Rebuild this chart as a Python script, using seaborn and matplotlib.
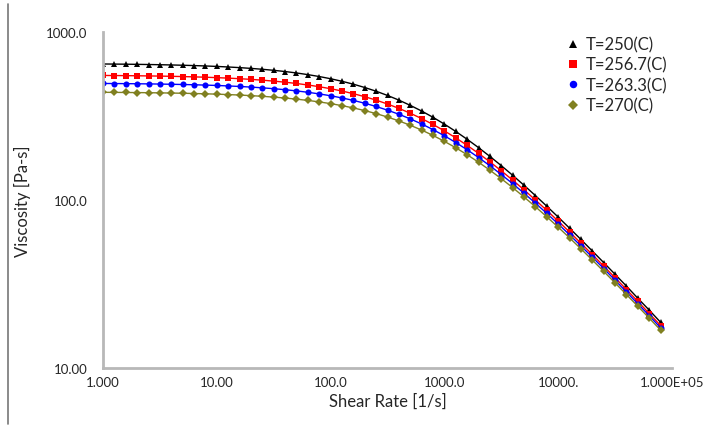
import numpy as np
import pandas as pd
import seaborn as sns
import matplotlib
matplotlib.use('Agg')
import matplotlib.pyplot as plt
from matplotlib.lines import Line2D

# shear rates (1/s), 10 points per decade
log_rate = [0.0, 0.1, 0.2, 0.3, 0.4, 0.5, 0.6, 0.7, 0.8, 0.9,
            1.0, 1.1, 1.2, 1.3, 1.4, 1.5, 1.6, 1.7, 1.8, 1.9,
            2.0, 2.1, 2.2, 2.3, 2.4, 2.5, 2.6, 2.7, 2.8, 2.9,
            3.0, 3.1, 3.2, 3.3, 3.4, 3.5, 3.6, 3.7, 3.8, 3.9,
            4.0, 4.1, 4.2, 4.3, 4.4, 4.5, 4.6, 4.7, 4.8, 4.9]
shear_rate = [10 ** v for v in log_rate]

# viscosity (Pa-s)
visc_250 = [645.1, 644.2, 643.2, 641.9, 640.4, 638.6, 636.5, 634.1, 631.2, 627.8,
            623.8, 619.1, 613.7, 607.3, 600.0, 591.4, 581.7, 570.4, 557.6, 543.2,
            527.0, 508.9, 489.1, 467.3, 444.1, 419.1, 393.2, 365.9, 338.5, 310.6,
            282.9, 255.8, 229.8, 205.0, 181.7, 160.1, 140.3, 122.3, 106.2, 91.8,
            79.1, 67.95, 58.2, 49.7, 42.4, 36.1, 30.7, 26.0, 22.1, 18.7]
visc_2567 = [551.3, 550.6, 549.8, 548.8, 547.7, 546.4, 544.8, 542.9, 540.7, 538.1,
             535.0, 531.4, 527.3, 522.4, 516.7, 510.1, 502.5, 493.8, 483.8, 472.4,
             459.7, 445.3, 429.4, 412.0, 393.1, 372.7, 351.2, 328.5, 305.3, 281.6,
             257.8, 234.3, 211.4, 189.5, 168.7, 149.2, 131.3, 114.9, 100.0, 86.7,
             74.9, 64.5, 55.3, 47.35, 40.4, 34.45, 29.3, 24.9, 21.1, 17.9]
visc_2633 = [493.9, 493.4, 492.7, 491.9, 491.0, 489.9, 488.5, 487.0, 485.2, 483.0,
             480.5, 477.5, 474.0, 470.0, 465.3, 459.7, 453.4, 446.1, 437.7, 428.1,
             417.3, 405.1, 391.6, 376.6, 360.3, 342.6, 323.9, 304.0, 283.5, 262.4,
             241.1, 219.8, 199.1, 179.0, 159.9, 141.8, 125.1, 109.7, 95.8, 83.2,
             72.0, 62.1, 53.3, 45.7, 39.1, 33.3, 28.35, 24.1, 20.5, 17.35]
visc_270 = [437.5, 437.1, 436.5, 435.9, 435.1, 434.2, 433.2, 431.9, 430.4, 428.7,
            426.6, 424.2, 421.4, 418.1, 414.2, 409.7, 404.5, 398.4, 391.6, 383.6,
            374.7, 364.5, 353.2, 340.6, 326.8, 311.8, 295.8, 278.5, 260.8, 242.3,
            223.4, 204.6, 186.0, 167.9, 150.4, 133.9, 118.5, 104.2, 91.2, 79.4,
            68.9, 59.5, 51.2, 43.9, 37.6, 32.1, 27.35, 23.3, 19.8, 16.8]

labels = ['T=250(C)', 'T=256.7(C)', 'T=263.3(C)', 'T=270(C)']
series = [visc_250, visc_2567, visc_2633, visc_270]
colors = ['black', '#ff0000', '#0000ff', '#808020']
markers = ['^', 's', 'o', 'D']
msizes = [4.2, 4.6, 4.4, 3.6]

x_ticks = [1, 10, 100, 1000, 10000, 100000]
x_ticklabels = ['1.000', '10.00', '100.0', '1000.0', '10000.', '1.000E+05']
y_ticks = [10, 100, 1000]
y_ticklabels = ['10.00', '100.0', '1000.0']

sns.set_style('white')
plt.rcParams['font.family'] = ['Lato', 'DejaVu Sans']

fig = plt.figure(figsize=(7.04, 4.31), dpi=100)
ax = fig.add_axes([103 / 704, 62 / 431, 569 / 704, 336 / 431])

for lab, vals, c, m, ms in zip(labels, series, colors, markers, msizes):
    df = pd.DataFrame({'rate': shear_rate, 'visc': vals})
    sns.lineplot(data=df, x='rate', y='visc', ax=ax, color=c, marker=m,
                 markersize=ms, markeredgewidth=0, linewidth=1, legend=False)

ax.set_xscale('log')
ax.set_yscale('log')
ax.set_xlim(1, 1e5)
ax.set_ylim(10, 1000)
ax.minorticks_off()
ax.set_xticks(x_ticks)
ax.set_xticklabels(x_ticklabels, fontsize=9.5)
ax.set_yticks(y_ticks)
ax.set_yticklabels(y_ticklabels, fontsize=9.5)
ax.tick_params(axis='x', direction='inout', length=6, color='#999999', width=1, pad=3)
ax.tick_params(axis='y', direction='out', length=5, color='#999999', width=1, pad=6)
ax.set_xlabel('Shear Rate [1/s]', fontsize=12, labelpad=3)
ax.set_ylabel('Viscosity [Pa-s]', fontsize=12, labelpad=11)
for side in ['top', 'right']:
    ax.spines[side].set_visible(False)
for side in ['left', 'bottom']:
    ax.spines[side].set_color('#b8b8b8')
    ax.spines[side].set_linewidth(2)

handles = [Line2D([], [], color=c, marker=m, markersize=ms + 1, markeredgewidth=0, linestyle='none')
           for c, m, ms in zip(colors, markers, msizes)]
fig.legend(handles, labels, loc='upper left', bbox_to_anchor=(556 / 704, 1 - 29 / 431),
           frameon=False, fontsize=12, handlelength=1, handletextpad=0.3,
           labelspacing=0.25, borderpad=0)

# frame line at the left edge of the picture
fig.add_artist(Line2D([8 / 704, 8 / 704], [1 - 5 / 431, 1 - 425 / 431],
                      color='#777777', linewidth=1.2))

plt.savefig('out.png', dpi=100)
